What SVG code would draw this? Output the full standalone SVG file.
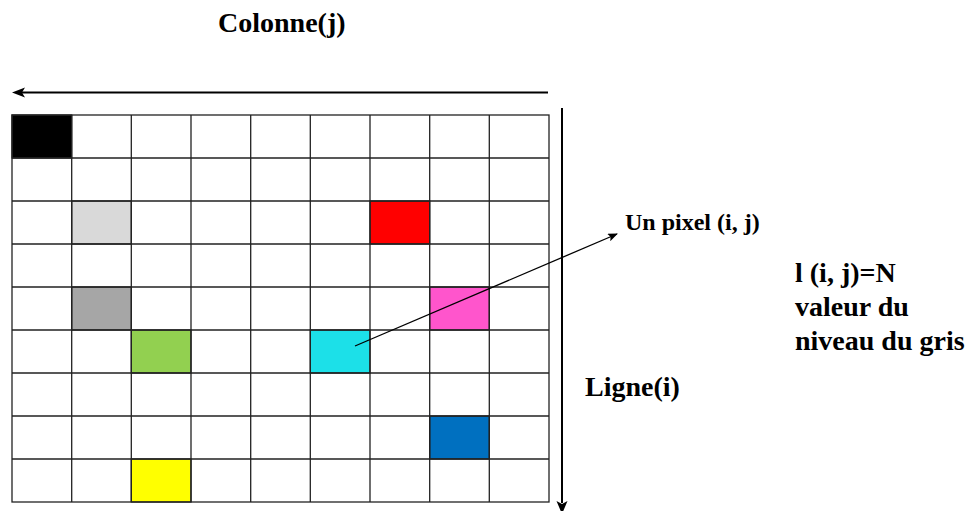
<svg xmlns="http://www.w3.org/2000/svg" width="971" height="511" viewBox="0 0 971 511">
<style>
.lbl{font-family:"Liberation Serif","Times New Roman",serif;font-weight:bold;fill:#000}
.grid{stroke:#222;stroke-width:1.3;fill:none}
.conn{stroke:#000;fill:none}
</style>
<defs>
<marker id="ah" markerWidth="10" markerHeight="8" refX="9" refY="4" orient="auto" markerUnits="userSpaceOnUse">
<path d="M0,0 L10,4 L0,8 L2,4 Z" fill="#000"/>
</marker>
</defs>
<rect width="971" height="511" fill="#fff"/>
<g id="cells" stroke="#222" stroke-width="1.3">
<g id="cell-black"><rect x="12" y="115" width="59.7" height="43" fill="#000"/></g>
<g id="cell-lightgray"><rect x="71.7" y="201" width="59.6" height="43" fill="#d9d9d9"/></g>
<g id="cell-red"><rect x="370" y="201" width="59.7" height="43" fill="#ff0000"/></g>
<g id="cell-gray"><rect x="71.7" y="287" width="59.6" height="43" fill="#a6a6a6"/></g>
<g id="cell-magenta"><rect x="429.7" y="287" width="59.6" height="43" fill="#ff55cc"/></g>
<g id="cell-green"><rect x="131.3" y="330" width="59.7" height="43" fill="#92d050"/></g>
<g id="cell-cyan"><rect x="310.3" y="330" width="59.7" height="43" fill="#1ce0e8"/></g>
<g id="cell-blue"><rect x="429.7" y="416" width="59.6" height="43" fill="#0070c0"/></g>
<g id="cell-yellow"><rect x="131.3" y="459" width="59.7" height="43" fill="#ffff00"/></g>
</g>
<g id="grid" class="grid">
<rect x="12" y="115" width="537" height="387"/>
<path d="M71.7,115V502 M131.3,115V502 M191,115V502 M250.7,115V502 M310.3,115V502 M370,115V502 M429.7,115V502 M489.3,115V502"/>
<path d="M12,158H549 M12,201H549 M12,244H549 M12,287H549 M12,330H549 M12,373H549 M12,416H549 M12,459H549"/>
</g>
<g id="connectors">
<line class="conn" x1="548" y1="92.5" x2="22" y2="92.5" stroke-width="1.8"/>
<path d="M12,92.5 L25,87.5 L22,92.5 L25,97.5 Z" fill="#000"/>
<line class="conn" x1="562" y1="108" x2="562" y2="503" stroke-width="2"/>
<path d="M562,514 L556.5,501 L562,504 L567.5,501 Z" fill="#000"/>
<line class="conn" x1="355" y1="346" x2="617" y2="234" stroke-width="1.3" marker-end="url(#ah)"/>
</g>
<g id="label-colonne"><text class="lbl" x="218" y="32" font-size="28">Colonne(j)</text></g>
<g id="label-ligne"><text class="lbl" x="585" y="396" font-size="28">Ligne(i)</text></g>
<g id="label-pixel"><text class="lbl" x="625" y="230" font-size="24">Un pixel (i, j)</text></g>
<g id="label-valeur">
<text class="lbl" x="795" y="282" font-size="28">l (i, j)=N</text>
<text class="lbl" x="795" y="316" font-size="28">valeur du</text>
<text class="lbl" x="795" y="350" font-size="28">niveau du gris</text>
</g>
</svg>
